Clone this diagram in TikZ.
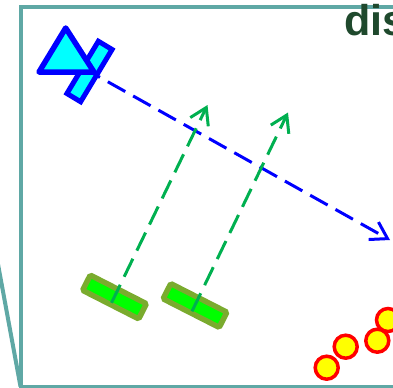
\documentclass[tikz,border=0pt]{standalone}
\usepackage{fontspec}
\setmainfont{Liberation Sans}
\usetikzlibrary{arrows.meta,positioning}
\definecolor{framecol}{RGB}{95,168,165}
\definecolor{beamcol}{RGB}{0,176,80}
\definecolor{panelcol}{RGB}{122,171,46}
\definecolor{titlecol}{RGB}{31,73,45}
\definecolor{dishfill}{RGB}{0,255,255}
\definecolor{pointfill}{RGB}{255,255,0}
\definecolor{panelfill}{RGB}{0,255,0}
\definecolor{txcol}{RGB}{0,0,255}
\definecolor{pointcol}{RGB}{255,0,0}

\begin{document}
\begin{tikzpicture}[
  x=0.2mm,y=-0.2mm,
  >={Straight Barb[length=3.2mm,width=4mm]},
  frameline/.style={draw=framecol,line width=0.8mm},
  dish/.style={rectangle,draw=txcol,fill=dishfill,line width=1mm,outer sep=0pt,
    minimum width=12.2mm,minimum height=3.2mm,rotate=59},
  horn/.style={draw=txcol,fill=dishfill,line width=1.1mm,line join=round},
  panel/.style={rectangle,draw=panelcol,fill=panelfill,line width=1.1mm,outer sep=0pt,
    rounded corners=0.3mm,minimum width=12.6mm,minimum height=3.4mm,rotate=-27},
  scatterer/.style={circle,draw=pointcol,fill=pointfill,line width=0.7mm,inner sep=0pt,
    minimum size=4.6mm},
  txbeam/.style={->,draw=txcol,line width=0.6mm,dash pattern=on 4mm off 1.8mm,dash phase=1.6mm},
  rxbeam/.style={->,draw=beamcol,line width=0.6mm,dash pattern=on 4mm off 1.8mm}
]
  \clip (0,0) rectangle (393,387);

  % room outline
  \coordinate (roomtl) at (20.5,6.5);
  \coordinate (roomtr) at (400,6.5);
  \coordinate (roombl) at (20.5,386.5);
  \coordinate (roombr) at (400,386.5);
  \coordinate (wallend) at (-5,248);
  \draw[frameline] (roomtr) -- (roomtl) -- (roombl) -- (roombr);
  \draw[frameline] (wallend) -- (roombl);
  \node[anchor=base west,inner sep=0pt,text=titlecol,font=\fontsize{24.5}{29}\selectfont\bfseries] (title) at (344,35) {dis};

  % radar
  \node[dish] (antenna) at (89.5,71.5) {};
  \draw[horn] (65.7,28) -- (39,72) -- (94,72) -- cycle;

  % panels
  \node[panel] (panelA) at (114.5,297) {};
  \node[panel] (panelB) at (195,305.5) {};

  % scatterers
  \node[scatterer] (pointA) at (326.7,367.7) {};
  \node[scatterer] (pointB) at (345.7,346.7) {};
  \node[scatterer] (pointC) at (377.3,340.7) {};
  \node[scatterer] (pointD) at (388,320) {};

  % beams
  \coordinate (txend) at (390,240);
  \coordinate (footA) at (111.5,302.8);
  \coordinate (footB) at (192,311.3);
  \coordinate (rxendA) at (207.5,105);
  \coordinate (rxendB) at (288,112.5);
  \draw[txbeam] (antenna.center) -- (txend);
  \draw[rxbeam] (footA) -- (rxendA);
  \draw[rxbeam] (footB) -- (rxendB);
\end{tikzpicture}
\end{document}
